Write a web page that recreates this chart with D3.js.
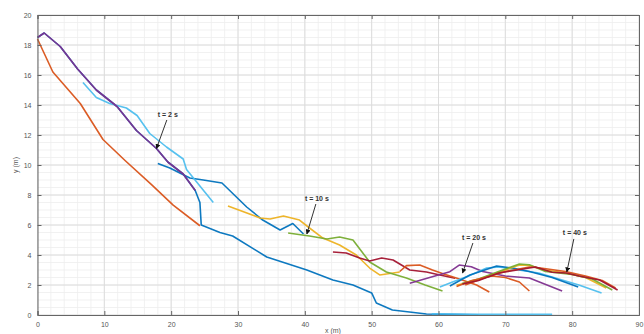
<!DOCTYPE html>
<html><head><meta charset="utf-8">
<script src="https://cdn.jsdelivr.net/npm/d3@7"></script>
<style>body{margin:0;background:#fff}svg{display:block}</style>
</head><body>
<script>
// ---- data ----
const xTicks = [0,10,20,30,40,50,60,70,80,90];
const yTicks = [0,2,4,6,8,10,12,14,16,18,20];
const xLabel = "x (m)";
const yLabel = "y (m)";

const blueMain = [[0,18.5],[1,18.8],[3.4,17.9],[6,16.4],[8.8,15],[11.9,13.9],[14.8,12.3],[17.8,11.1],[19.5,10.2],[21.8,9.4],[23.6,8.3],[24.3,7.5],[24.5,6.0],[27.3,5.5],[29.2,5.27],[34.3,3.87],[40.3,3.0],[44.2,2.33],[47.2,2.0],[50,1.47],[50.7,0.8],[53.1,0.33],[58.2,0.07],[66,0.02]];
const orangeA = [[0,18.4],[2.3,16.2],[6.4,14.1],[9.8,11.7],[13.1,10.3],[17.1,8.67],[20.3,7.33],[24.3,5.95]];
const purpleA = [[0,18.5],[1,18.8],[3.4,17.9],[6,16.4],[8.8,15],[11.9,13.9],[14.8,12.3],[17.8,11.1],[19.5,10.2],[21.8,9.4],[23.6,8.3]];
const lightBlueA = [[6.8,15.5],[8.8,14.5],[10.8,14.1],[13.3,13.8],[14.9,13.3],[16.8,12.1],[19.3,11.2],[21.8,10.4],[22.3,9.7],[26.3,7.5]];
const lightBlueFloor = [[59,0.08],[65,0.05],[77,0.04]];
const blueB = [[18,10.1],[19.8,9.8],[22.8,9.13],[24.8,9.0],[27.6,8.8],[31.3,7.2],[33.7,6.33],[36.3,5.67],[38.2,6.1],[39.8,5.4]];
const yellowA = [[28.5,7.27],[33.3,6.47],[34.8,6.4],[36.8,6.6],[39.2,6.33],[40.7,5.8],[42.7,5.13],[45.2,4.67],[47.7,4.0],[49.7,3.13],[51.2,2.67],[54.2,2.87]];
const greenA = [[37.5,5.47],[40.7,5.27],[43.3,5.07],[45.2,5.2],[47.2,5.0],[49.7,3.53],[52.2,2.87],[55.2,2.47],[58,2.0],[60.6,1.6]];
const darkRedA = [[44.2,4.2],[46.2,4.13],[48.2,3.8],[49.7,3.6],[51.5,3.8],[53.2,3.67],[55.7,3.0],[58.2,2.87],[60.2,2.67],[62.5,2.45]];
const orangeB = [[54.2,2.9],[55.2,3.29],[57.2,3.33],[59.1,3.0],[60.9,2.71],[62.9,2.44],[65.7,2.0],[67.6,1.53]];
const purpleB = [[55.7,2.11],[59.2,2.56],[61.7,2.89],[63.1,3.33],[64.9,3.22],[66.6,2.9],[70,2.6],[73.6,2.47],[75.1,2.2],[78.5,1.6]];
const lightBlueB = [[60.2,1.87],[62.1,2.2],[64.5,2.6],[67.2,3.13],[69.1,3.2],[72,3.0],[75,2.8],[78,2.4],[81,2.0],[84.4,1.47]];
const blueC = [[61.7,1.93],[64.7,2.67],[68.7,3.27],[71.1,3.13],[73.6,2.9],[77,2.5],[80.9,1.87]];
const yellowB = [[62.7,2.0],[65,2.2],[68,2.7],[72.1,3.33],[73.6,3.3],[76,3.0],[79,2.8],[82,2.5],[85.1,1.8]];
const greenB = [[63.5,2.1],[66,2.4],[69,2.9],[72.1,3.4],[73.6,3.35],[76,2.9],[80,2.7],[83,2.4],[86,1.67]];
const orangeC = [[62.7,1.9],[65,2.3],[68,2.6],[70,2.5],[72.1,2.2],[73.6,1.6]];
const orangeD = [[64,2.0],[67,2.5],[70,2.9],[73.6,3.2],[75,3.15],[79,2.9],[82,2.6],[84.5,2.3],[86.5,1.8]];
const darkRedB = [[63.6,2.07],[66,2.3],[69,2.8],[73.6,3.13],[74.5,3.2],[77,2.85],[79.1,2.8],[81,2.6],[84.1,2.33],[86.8,1.67]];

const seriesList = [blueMain, orangeA, lightBlueFloor, blueB, lightBlueA, purpleA, yellowA, greenA, darkRedA, orangeB, purpleB, lightBlueB, blueC, yellowB, greenB, orangeC, orangeD, darkRedB];
const seriesColors = ["#0072BD","#D95319","#4DBEEE","#0072BD","#4DBEEE","#7E2F8E","#EDB120","#77AC30","#A2142F","#D95319","#7E2F8E","#4DBEEE","#0072BD","#EDB120","#77AC30","#D95319","#D95319","#A2142F"];

// annotations: label text, label position (data), arrow tip (data)
const annoText = ["t = 2 s","t = 10 s","t = 20 s","t = 40 s"];
const annoLabelPos = [[19.5,13.4],[41.8,7.8],[65.3,5.2],[80.4,5.47]];
const annoTip = [[17.8,11.1],[40.3,5.4],[63.6,2.8],[79.2,2.87]];

// ---- chart ----
const W = 644, H = 334;
const svg = d3.select("body").append("svg").attr("width", W).attr("height", H);
const x = d3.scaleLinear().domain([0,90]).range([37.5,639]);
const y = d3.scaleLinear().domain([0,20]).range([315,15]);

const g = svg.append("g");
// minor grid
g.selectAll(".mx").data(d3.range(0,90.01,2)).join("line")
  .attr("x1",d=>x(d)).attr("x2",d=>x(d)).attr("y1",y(0)).attr("y2",y(20))
  .attr("stroke","#eeeeee").attr("stroke-width",0.8);
g.selectAll(".my").data(d3.range(0,20.01,0.5)).join("line")
  .attr("y1",d=>y(d)).attr("y2",d=>y(d)).attr("x1",x(0)).attr("x2",x(90))
  .attr("stroke","#eeeeee").attr("stroke-width",0.8);
// major grid
g.selectAll(".gx").data(xTicks).join("line")
  .attr("x1",d=>x(d)).attr("x2",d=>x(d)).attr("y1",y(0)).attr("y2",y(20))
  .attr("stroke","#dadada").attr("stroke-width",0.9);
g.selectAll(".gy").data(yTicks).join("line")
  .attr("y1",d=>y(d)).attr("y2",d=>y(d)).attr("x1",x(0)).attr("x2",x(90))
  .attr("stroke","#dadada").attr("stroke-width",0.9);

// series
const line = d3.line().x(d=>x(d[0])).y(d=>y(d[1]));
seriesList.forEach((s,i)=>{
  svg.append("path").datum(s).attr("d",line).attr("fill","none")
    .attr("stroke",seriesColors[i]).attr("stroke-width",1.6)
    .attr("stroke-linejoin","round").attr("opacity",0.95);
});

// axes
const tickFont = "'Liberation Sans', Arial, sans-serif";
const xAxis = svg.append("g").attr("transform",`translate(0,${y(0)})`)
  .call(d3.axisBottom(x).tickValues(xTicks).tickSize(-4).tickPadding(7).tickFormat(d3.format("d")));
const yAxis = svg.append("g").attr("transform",`translate(${x(0)},0)`)
  .call(d3.axisLeft(y).tickValues(yTicks).tickSize(-4).tickPadding(6).tickFormat(d3.format("d")));
const xTop = svg.append("g").attr("transform",`translate(0,${y(20)})`)
  .call(d3.axisTop(x).tickValues(xTicks).tickSize(-4).tickFormat(""));
const yRight = svg.append("g").attr("transform",`translate(${x(90)},0)`)
  .call(d3.axisRight(y).tickValues(yTicks).tickSize(-4).tickFormat(""));
[xAxis,yAxis,xTop,yRight].forEach(a=>{
  a.selectAll("path").attr("stroke","#666").attr("stroke-width",1);
  a.selectAll("line").attr("stroke","#666");
  a.selectAll("text").attr("fill","#555").style("font-family",tickFont).style("font-size","7px");
});

svg.append("text").attr("x",333).attr("y",333).attr("text-anchor","middle")
  .style("font-family",tickFont).style("font-size","7px").attr("fill","#555").text(xLabel);
svg.append("text").attr("transform",`translate(18,${y(10)}) rotate(-90)`).attr("text-anchor","middle")
  .style("font-family",tickFont).style("font-size","7px").attr("fill","#555").text(yLabel);

// annotations
const defs = svg.append("defs");
defs.append("marker").attr("id","ah").attr("viewBox","0 0 10 10").attr("refX",9).attr("refY",5)
  .attr("markerWidth",5).attr("markerHeight",5).attr("orient","auto")
  .append("path").attr("d","M0,0L10,5L0,10z").attr("fill","#111");
annoText.forEach((t,i)=>{
  const lp = annoLabelPos[i], tp = annoTip[i];
  svg.append("text").attr("x",x(lp[0])).attr("y",y(lp[1])+2.5).attr("text-anchor","middle")
    .style("font-family",tickFont).style("font-size","7px").style("font-weight","bold")
    .attr("fill","#333").text(t);
  svg.append("line").attr("x1",x(lp[0])-1).attr("y1",y(lp[1])+6)
    .attr("x2",x(tp[0])).attr("y2",y(tp[1]))
    .attr("stroke","#333").attr("stroke-width",1).attr("marker-end","url(#ah)");
});
</script>
</body></html>
